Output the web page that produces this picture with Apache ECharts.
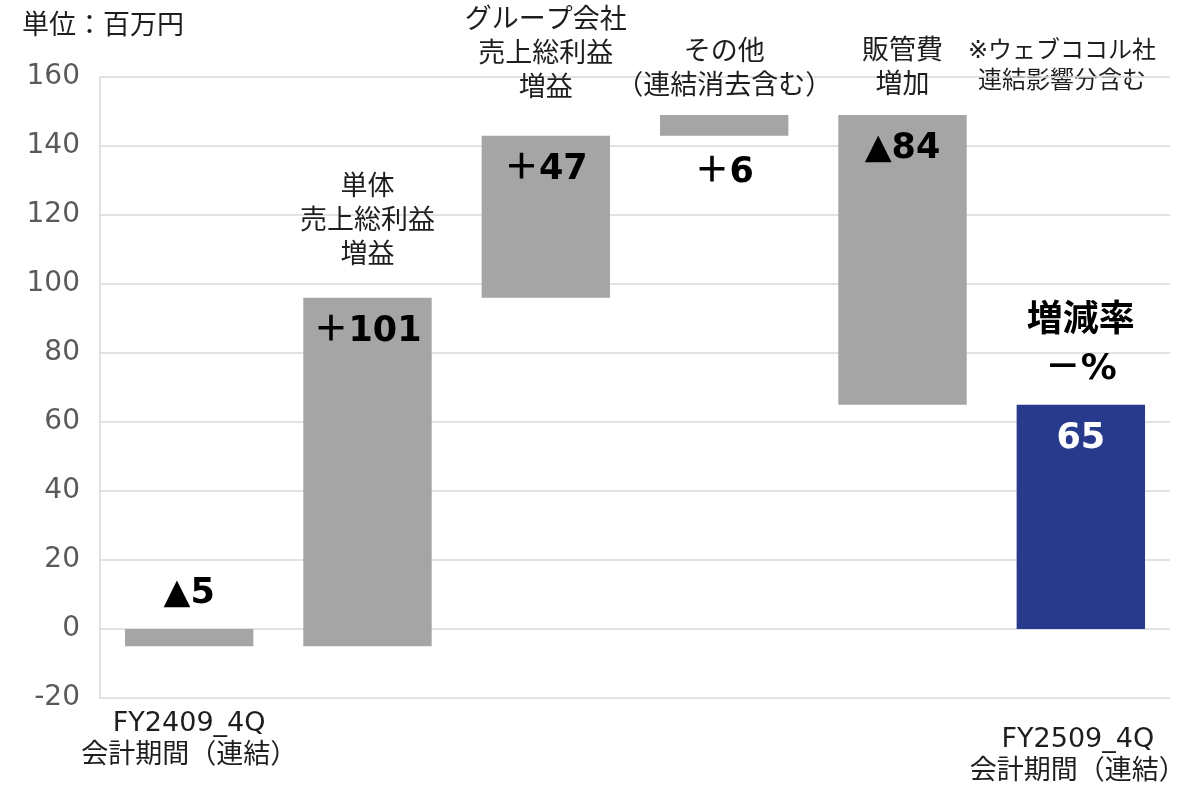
<!DOCTYPE html>
<html>
<head>
<meta charset="utf-8">
<script src="https://cdn.jsdelivr.net/npm/echarts@6/dist/echarts.min.js"></script>
<style>
  html, body { margin: 0; padding: 0; background: #ffffff; }
  #chart { width: 1197px; height: 785px; }
</style>
</head>
<body>
<div id="chart"></div>
<script>
// Operating profit bridge, FY2409_4Q -> FY2509_4Q (unit: million yen)
const categories = [
  'FY2409_4Q\n会計期間（連結）',
  '単体売上総利益増益',
  'グループ会社売上総利益増益',
  'その他（連結消去含む）',
  '販管費増加',
  'FY2509_4Q\n会計期間（連結）'
];
const openingValue = -5;
const changes = [101, 47, 6, -84];
const closingValue = 65;
const barNotes = [
  '',
  '単体\n売上総利益\n増益',
  'グループ会社\n売上総利益\n増益',
  'その他\n（連結消去含む）',
  '販管費\n増加',
  '増減率\n－%'
];
const yTicks = { min: -20, max: 160, step: 20 };

// Layout of the value label around each bar, and gap between note text and bar top (px)
const valuePlacement = ['above', 'insideTop', 'insideTop', 'below', 'insideTop', 'insideTop'];
const noteGap = [0, 25, 30, 11, 12, 11];

const FONT = "'DejaVu Sans', 'Noto Sans CJK JP', sans-serif";
const GREY = '#a5a5a5';
const NAVY = '#283a8c';
const INK = '#1e1e1e';

// Build floating segments: [index, low, high, value, kind]
const rows = [];
rows.push([0, Math.min(0, openingValue), Math.max(0, openingValue), openingValue, 'total']);
let level = openingValue;
changes.forEach((d, k) => {
  const next = level + d;
  rows.push([k + 1, Math.min(level, next), Math.max(level, next), d, 'change']);
  level = next;
});
rows.push([changes.length + 1, Math.min(0, closingValue), Math.max(0, closingValue), closingValue, 'total']);

function valueText(v, kind) {
  if (v < 0) return '▲' + Math.abs(v);
  return kind === 'change' ? '＋' + v : String(v);
}

function renderItem(params, api) {
  const idx = api.value(0);
  const low = api.value(1);
  const high = api.value(2);
  const row = rows[params.dataIndex];
  const top = api.coord([idx, high]);
  const bottom = api.coord([idx, low]);
  const w = api.size([1, 0])[0] * 0.72;
  const isClosing = idx === rows.length - 1;
  const children = [{
    type: 'rect',
    shape: { x: top[0] - w / 2, y: top[1], width: w, height: bottom[1] - top[1] },
    style: { fill: isClosing ? NAVY : GREY }
  }];

  const place = valuePlacement[idx];
  let ly = top[1] + 34;
  if (place === 'above') ly = top[1] - 35;
  if (place === 'below') ly = bottom[1] + 37;
  children.push({
    type: 'text',
    x: top[0], y: ly,
    style: {
      text: valueText(row[3], row[4]),
      fill: isClosing ? '#ffffff' : '#000000',
      font: 'bold 35px ' + FONT,
      align: 'center', verticalAlign: 'middle'
    }
  });

  if (barNotes[idx]) {
    const bold = isClosing;
    children.push({
      type: 'text',
      x: top[0], y: top[1] - noteGap[idx],
      style: {
        text: barNotes[idx],
        fill: bold ? '#000000' : INK,
        font: (bold ? 'bold 36px ' : '27px ') + FONT,
        lineHeight: bold ? 48 : 34,
        align: 'center', verticalAlign: 'bottom'
      }
    });
  }
  return { type: 'group', children };
}

const chart = echarts.init(document.getElementById('chart'), null, { renderer: 'canvas' });
chart.setOption({
  animation: false,
  backgroundColor: '#ffffff',
  textStyle: { fontFamily: FONT },
  grid: { left: 100, right: 27, top: 77, bottom: 87, containLabel: false, outerBoundsMode: 'none' },
  graphic: [
    {
      type: 'text', left: 22, top: 13,
      style: { text: '単位：百万円', font: '27px ' + FONT, fill: INK }
    },
    {
      type: 'text', x: 1062, y: 67,
      style: {
        text: '※ウェブココル社\n連結影響分含む', font: '24px ' + FONT, fill: INK,
        lineHeight: 30, align: 'center', verticalAlign: 'middle'
      }
    }
  ],
  xAxis: {
    type: 'category',
    data: categories.map((c, i) => i === categories.length - 1
      ? { value: c, textStyle: { padding: [16, 6, 0, 0] } }
      : c),
    axisLine: { show: false },
    axisTick: { show: false },
    splitLine: { show: false },
    axisLabel: {
      interval: 0,
      margin: 10,
      color: INK,
      fontSize: 27,
      lineHeight: 32,
      fontFamily: FONT,
      formatter: (v, i) => (i === 0 || i === categories.length - 1) ? v : ''
    }
  },
  yAxis: {
    type: 'value',
    min: yTicks.min, max: yTicks.max, interval: yTicks.step,
    axisLine: { show: true, lineStyle: { color: '#d9d9d9', width: 1.5 } },
    axisTick: { show: false },
    splitLine: { show: true, lineStyle: { color: '#d9d9d9', width: 1.5 } },
    axisLabel: { color: '#595959', fontSize: 28, margin: 20, fontFamily: FONT }
  },
  series: [{
    type: 'custom',
    renderItem,
    encode: { x: 0, y: [1, 2] },
    data: rows.map(r => [r[0], r[1], r[2], r[3]]),
    z: 3
  }]
});
</script>
</body>
</html>
